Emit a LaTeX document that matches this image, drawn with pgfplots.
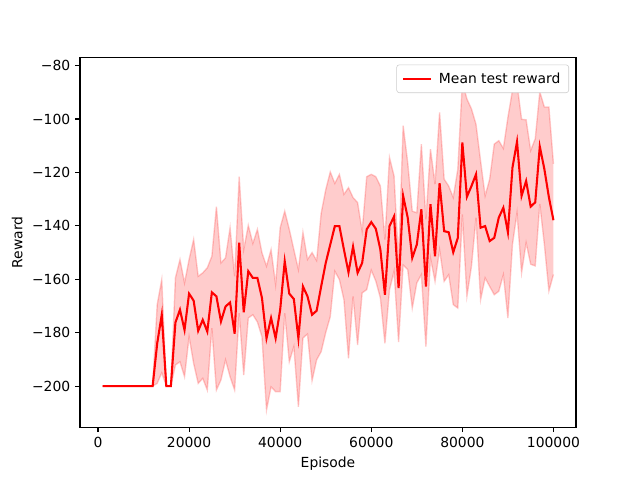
\documentclass[border=0pt]{standalone}
\usepackage{fontspec}
\setmainfont{DejaVu Sans}
\usepackage{pgfplots}
\usepackage{pgfplotstable}
\pgfplotsset{compat=1.18}
\usepgfplotslibrary{fillbetween}
\usetikzlibrary{calc}

% episode, mean reward, lower and upper band
\pgfplotstableread{
x mean lo hi
1000 -200 -200 -200
2000 -200 -200 -200
3000 -200 -200 -200
4000 -200 -200 -200
5000 -200 -200 -200
6000 -200 -200 -200
7000 -200 -200 -200
8000 -200 -200 -200
9000 -200 -200 -200
10000 -200 -200 -200
11000 -200 -200 -200
12000 -200 -200 -200
13000 -184.0 -199.0 -169.5
14000 -173.3 -195.0 -160.1
15000 -200 -200 -200
16000 -200 -200 -200
17000 -176.2 -192.1 -159.5
18000 -171.4 -190.9 -152.6
19000 -179.0 -196.5 -161.4
20000 -165.4 -181.5 -152.6
21000 -168.0 -191.5 -145.1
22000 -179.3 -199.0 -158.9
23000 -175.2 -197.1 -157.6
24000 -179.6 -201.5 -155.7
25000 -164.9 -178.3 -151.4
26000 -166.4 -201.5 -132.8
27000 -175.8 -197.7 -153.9
28000 -170.2 -190.2 -152.0
29000 -168.7 -196.5 -140.7
30000 -180.4 -201.5 -158.9
31000 -146.3 -172.7 -121.6
32000 -172.4 -195.9 -148.9
33000 -157.0 -174.5 -139.8
34000 -159.5 -173.3 -146.6
35000 -159.5 -176.0 -141.3
36000 -167.0 -181.5 -150.1
37000 -182.1 -209.0 -155.1
38000 -174.5 -200.3 -148.9
39000 -182.1 -202.1 -162.0
40000 -171.4 -202.1 -140.7
41000 -153.3 -172.7 -134.5
42000 -165.4 -190.9 -141.3
43000 -167.4 -185.2 -148.9
44000 -182.1 -207.8 -156.4
45000 -162.7 -182.0 -142.4
46000 -166.4 -180.5 -152.6
47000 -173.3 -198.0 -150.0
48000 -171.8 -190.2 -153.0
49000 -162.7 -187.1 -135.3
50000 -153.9 -180.0 -126.5
51000 -147.0 -174.0 -119.8
52000 -140.1 -157.0 -124.1
53000 -140.1 -160.1 -120.7
54000 -148.9 -167.7 -128.2
55000 -157.4 -189.6 -125.7
56000 -147.8 -166.4 -129.4
57000 -157.6 -184.6 -131.3
58000 -153.9 -165.1 -142.0
59000 -141.3 -163.9 -121.6
60000 -138.6 -156.6 -120.7
61000 -141.1 -160.7 -121.6
62000 -148.9 -167.0 -125.1
63000 -165.8 -184.0 -145.1
64000 -140.1 -164.0 -114.4
65000 -136.5 -157.0 -121.3
66000 -163.3 -183.5 -153.3
67000 -128.8 -154.7 -102.5
68000 -136.9 -156.4 -116.3
69000 -152.0 -170.8 -134.5
70000 -147.0 -161.4 -135.1
71000 -133.8 -158.2 -109.4
72000 -162.7 -185.2 -137.6
73000 -131.9 -152.0 -111.3
74000 -151.4 -160.8 -124.4
75000 -124.0 -148.9 -97.5
76000 -142.0 -160.8 -122.5
77000 -142.4 -158.3 -125.1
78000 -149.9 -169.5 -129.4
79000 -144.5 -170.8 -118.8
80000 -108.8 -135.7 -86.2
81000 -129.1 -166.4 -92.5
82000 -125.1 -155.1 -96.2
83000 -120.7 -136.9 -102.0
84000 -140.7 -167.7 -115.7
85000 -140.1 -159.5 -128.8
86000 -145.7 -162.7 -122.5
87000 -144.5 -165.8 -109.4
88000 -136.9 -164.5 -108.1
89000 -133.2 -158.3 -111.0
90000 -142.4 -174.5 -99.4
91000 -118.2 -147.0 -89.3
92000 -108.5 -135.1 -86.8
93000 -128.8 -157.6 -100.1
94000 -123.2 -146.3 -100.3
95000 -132.8 -154.4 -111.8
96000 -131.2 -155.0 -107.4
97000 -110.3 -131.8 -89.8
98000 -118.7 -146.9 -95.5
99000 -129.3 -164.4 -95.5
100000 -137.9 -158.2 -116.8
}\rewards

\begin{document}
\begin{tikzpicture}
\begin{axis}[
  name=ax,
  scale only axis,
  width=357.1pt, height=266.1pt,
  xmin=-3950, xmax=104950,
  ymin=-215.4, ymax=-77,
  xtick={0,20000,40000,60000,80000,100000},
  xticklabels={0,20000,40000,60000,80000,100000},
  ytick={-200,-180,-160,-140,-120,-100,-80},
  yticklabels={−200,−180,−160,−140,−120,−100,−80},
  scaled x ticks=false,
  tick align=outside, tick pos=left,
  major tick length=3.5pt,
  axis line style={line width=0.8pt},
  tick style={line width=0.8pt, black},
  xlabel={Episode}, ylabel={Reward},
  legend style={at={(1,1)}, anchor=north east, xshift=-5pt, yshift=-5pt,
    draw=black!20, rounded corners=2pt, inner xsep=4pt, inner ysep=3.5pt,
    column sep=3pt},
  legend cell align=left,
  legend image code/.code={\draw[#1] (0pt,0pt) -- (20pt,0pt);},
]
\addplot[name path=hi, red, draw opacity=0.2, line width=1pt, forget plot] table[x=x, y=hi] {\rewards};
\addplot[name path=lo, red, draw opacity=0.2, line width=1pt, forget plot] table[x=x, y=lo] {\rewards};
\addplot[fill=red, fill opacity=0.2, draw=none, forget plot] fill between[of=hi and lo];
\addplot[red, line width=1.5pt] table[x=x, y=mean] {\rewards};
\addlegendentry{Mean test reward}
\end{axis}
\pgfresetboundingbox
\path[use as bounding box] ($(ax.south west)+(-57.6pt,-38.02pt)$) rectangle ($(ax.north east)+(46.08pt,41.47pt)$);
\end{tikzpicture}
\end{document}
